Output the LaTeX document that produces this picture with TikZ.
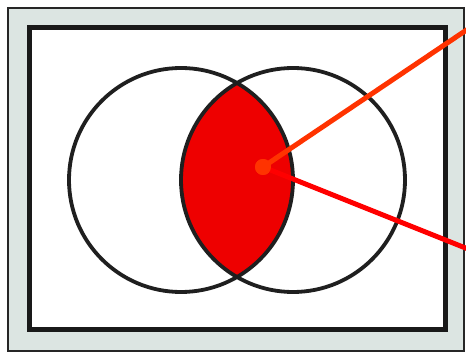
\documentclass[tikz,border=0pt]{standalone}
\usepackage{tikz}
\usepackage{xcolor}
\usetikzlibrary{positioning}

\definecolor{framegrey}{HTML}{DCE5E2}
\definecolor{lensred}{HTML}{EE0000}
\definecolor{pointorange}{HTML}{FF3300}
\definecolor{pointred}{HTML}{FF0000}

\begin{document}
\begin{tikzpicture}[x=1pt,y=-1pt,
  frame/.style={draw=black!85,line width=2.2pt,fill=framegrey},
  panel/.style={draw=black!90,line width=5pt,fill=white},
  venn/.style={draw=black!88,line width=3.8pt},
  pointer/.style={line width=5pt,line cap=round},
  dotmark/.style={circle,fill=pointorange,inner sep=0pt,minimum size=16pt}
]
\useasboundingbox (0,0) rectangle (466,355);

\draw[frame] (8,8) rectangle (464,351);
\draw[panel] (29,28) rectangle (445,330);

% intersection of the two sets
\begin{scope}
  \clip (181,180) circle (112);
  \fill[lensred] (293,180) circle (112);
\end{scope}
\draw[venn] (181,180) circle (112);
\draw[venn] (293,180) circle (112);

\node[dotmark] (dot) at (263,167) {};
\coordinate (upper) at (468,29);
\coordinate (lower) at (468,249);

\draw[pointer,draw=pointorange] (dot.center) -- (upper);
\draw[pointer,draw=pointred] (dot.center) -- (lower);
\node[dotmark] at (dot) {};
\end{tikzpicture}
\end{document}
